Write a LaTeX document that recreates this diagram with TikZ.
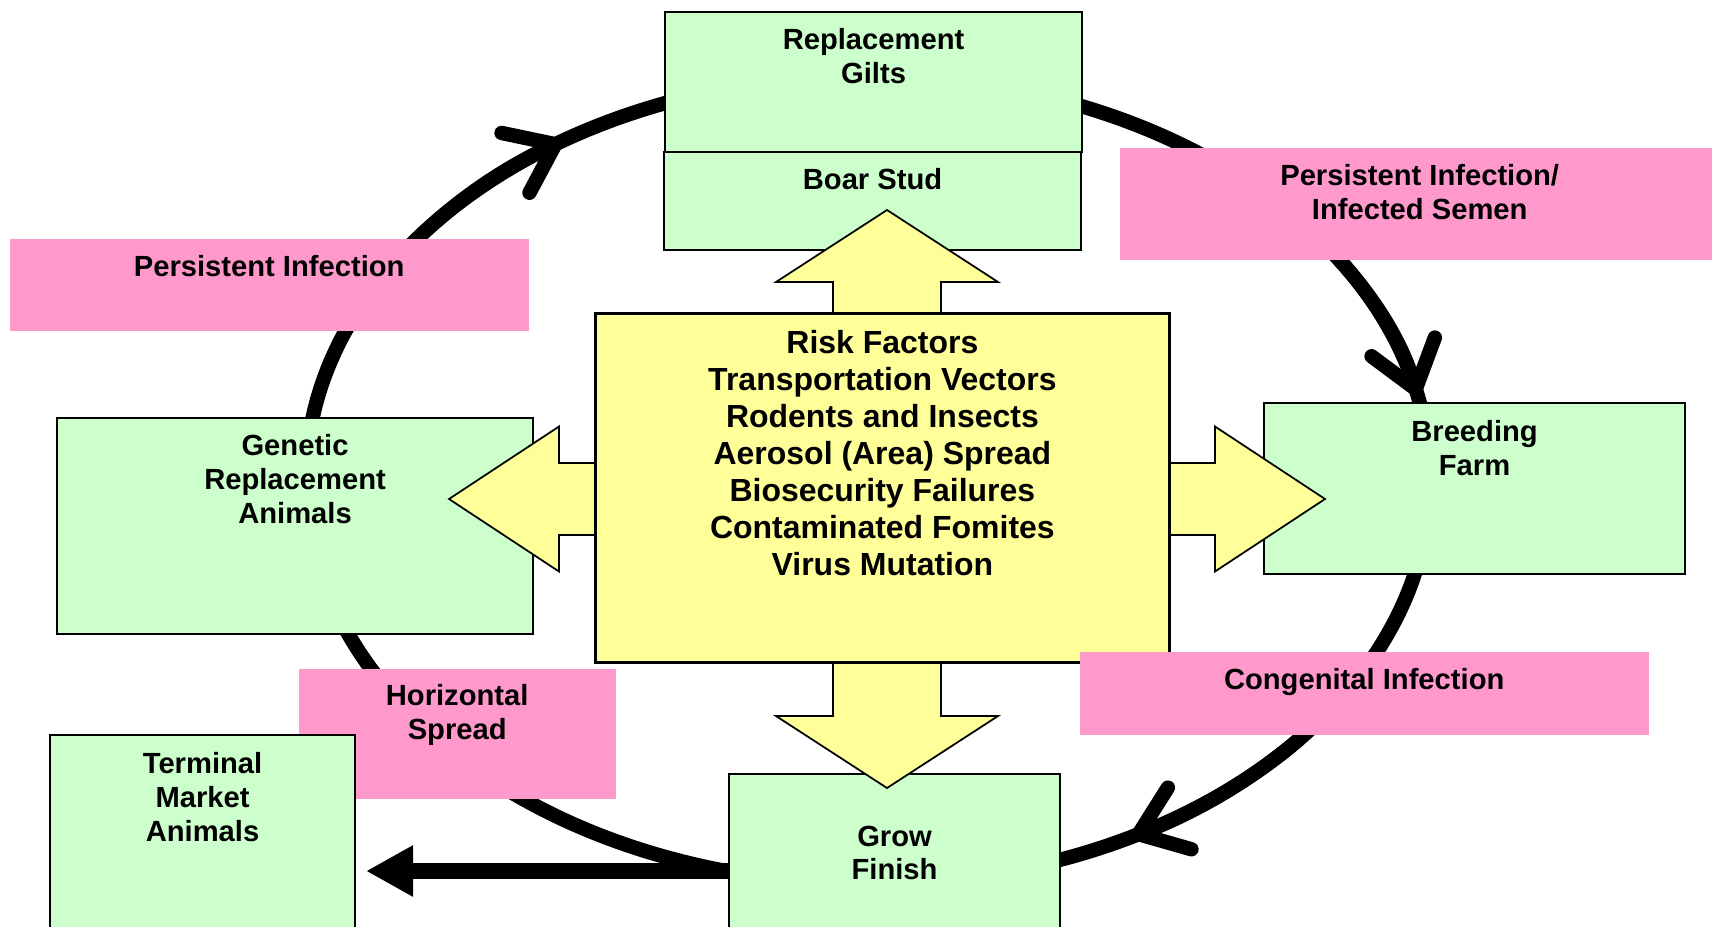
\documentclass[tikz,border=0pt]{standalone}
\usepackage{fontspec}
\setmainfont{Liberation Sans}
\usetikzlibrary{positioning,arrows.meta,calc}
\definecolor{boxgreen}{RGB}{204,255,204}
\definecolor{tagpink}{RGB}{255,153,204}
\definecolor{riskyellow}{RGB}{255,255,153}

\begin{document}
\begin{tikzpicture}[
  greenbox/.style={draw, line width=0.6pt, fill=boxgreen, inner sep=0pt, anchor=north west},
  pinkbox/.style={fill=tagpink, inner sep=0pt, anchor=north west},
  boxsize/.style 2 args={minimum width=#1cm, minimum height=#2cm},
  lbl/.style={font=\fontsize{8.3}{9.6}\selectfont\bfseries, align=center, inner sep=0pt},
  ring/.style={line width=4.1pt, line cap=round},
  barb/.style={-{Straight Barb[round, length=4.4mm, width=6.6mm]}},
  bigarrow/.style={draw, line width=0.5pt, fill=riskyellow},
]
\useasboundingbox (0,0) rectangle (17.12,-9.26);
\coordinate (ringc) at (8.68,-4.80); % centre of the cycle
\coordinate (hub) at (8.87,-4.99);   % where the yellow arrows start
\def\rx{5.62} % ring x radius
\def\ry{4.04} % ring y radius

% the cycle
\draw[ring] (ringc) ellipse [x radius=\rx, y radius=\ry];
\foreach \from/\to in {150/123, 40/12, -40/-62}
  \draw[ring, barb] ($(ringc)+(\from:\rx cm and \ry cm)$)
    arc[start angle=\from, end angle=\to, x radius=\rx, y radius=\ry];

% boxes
\node[greenbox, boxsize={4.17}{1.40}] (gilts) at (6.64,-0.11) {};
\node[greenbox, boxsize={4.17}{0.98}] (boar) at (6.63,-1.51) {};
\node[greenbox, boxsize={4.76}{2.16}] (genetic) at (0.56,-4.17) {};
\node[greenbox, boxsize={4.21}{1.71}] (breeding) at (12.63,-4.02) {};
\node[greenbox, boxsize={3.31}{1.58}] (grow) at (7.28,-7.73) {};

% out to market
\draw[line width=4.8pt, -{Triangle[length=4.7mm, width=4.8mm]}]
  (grow.west |- 0,-8.71) -- (3.66,-8.71);

% yellow arrows
\foreach \ang/\len/\base/\sw/\hw in {90/2.89/2.17/0.54/1.11, 270/2.89/2.17/0.54/1.11,
                                     0/4.38/3.28/0.36/0.725, 180/4.38/3.28/0.36/0.725}
  \draw[bigarrow, shift={(hub)}, rotate=\ang]
    (0,-\sw) -- (\base,-\sw) -- (\base,-\hw) -- (\len,0) -- (\base,\hw) -- (\base,\sw) -- (0,\sw) -- cycle;

\node[draw, line width=0.8pt, fill=riskyellow, inner sep=0pt, anchor=north west,
  boxsize={5.74}{3.49}] (risk) at (5.94,-3.12) {};

% pink tags
\node[pinkbox, boxsize={6.00}{1.12}] (semen) at (11.19,-1.47) {};
\node[pinkbox, boxsize={5.19}{0.92}] (persist) at (0.09,-2.38) {};
\node[pinkbox, boxsize={5.69}{0.83}] (congenital) at (10.79,-6.51) {};
\node[pinkbox, boxsize={3.17}{1.30}] (horizontal) at (2.98,-6.68) {};

\node[greenbox, boxsize={3.05}{2.20}] (terminal) at (0.49,-7.34) {};

% texts
\node[lbl, below=0.17 of gilts.north] (giltstxt) {Replacement\\Gilts};
\node[lbl, below=0.17 of boar.north] (boartxt) {Boar Stud};
\node[lbl, below=0.17 of genetic.north] (genetictxt) {Genetic\\Replacement\\Animals};
\node[lbl, below=0.18 of breeding.north] (breedingtxt) {Breeding\\Farm};
\node[lbl] (growtxt) at (grow) {Grow\\Finish};
\node[lbl, below=0.18 of terminal.north] (terminaltxt) {Terminal\\Market\\Animals};
\node[lbl, below=0.17 of semen.north] (sementxt) {Persistent Infection/\\Infected Semen};
\node[lbl, below=0.17 of persist.north] (persisttxt) {Persistent Infection};
\node[lbl, below=0.17 of congenital.north] (congenitaltxt) {Congenital Infection};
\node[lbl, below=0.16 of horizontal.north] (horizontaltxt) {Horizontal\\Spread};
\node[lbl, font=\fontsize{9.1}{10.5}\selectfont\bfseries, below=0.18 of risk.north] (risktxt)
  {Risk Factors\\Transportation Vectors\\Rodents and Insects\\Aerosol (Area) Spread\\
   Biosecurity Failures\\Contaminated Fomites\\Virus Mutation};
\end{tikzpicture}
\end{document}
